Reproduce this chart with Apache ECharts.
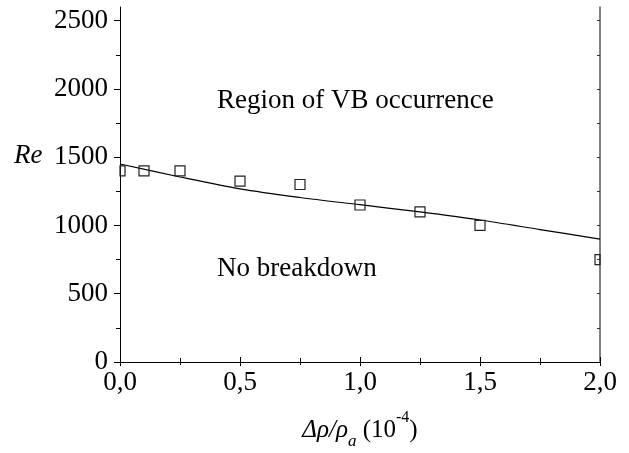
<!DOCTYPE html>
<html>
<head>
<meta charset="utf-8">
<script src="https://cdn.jsdelivr.net/npm/echarts@6/dist/echarts.min.js"></script>
<style>
  html, body { margin: 0; padding: 0; background: #fff; }
  #chart { width: 629px; height: 453px; }
</style>
</head>
<body>
<div id="chart"></div>
<script>
// measured points (squares)
const measX = [0, 0.1, 0.25, 0.5, 0.75, 1.0, 1.25, 1.5, 2.0];
const measRe = [1400, 1400, 1400, 1325, 1300, 1150, 1100, 1000, 750];

// fitted curve
const fitX = [0, 0.25, 0.5, 0.75, 1.0, 1.25, 1.5, 1.75, 2.0];
const fitRe = [1450, 1355, 1268, 1205, 1152, 1099, 1040, 970, 900];

const yMajor = [0, 500, 1000, 1500, 2000, 2500];
const yMinor = [250, 750, 1250, 1750, 2250];
const yAllTicks = [250, 500, 750, 1000, 1250, 1500, 1750, 2000, 2250, 2500];

const font = "'Liberation Serif', 'Times New Roman', serif";
const fs = 27;

const chart = echarts.init(document.getElementById('chart'));

const zip = (xs, ys) => xs.map((x, i) => [x, ys[i]]);

chart.setOption({
  animation: false,
  grid: { left: 120, right: 29, top: 7, bottom: 91, containLabel: false, outerBoundsMode: 'none' },
  xAxis: [
    {
      type: 'value',
      position: 'bottom',
      min: 0,
      max: 2,
      interval: 0.5,
      axisLine: { show: true, lineStyle: { color: '#000', width: 1 } },
      axisTick: { show: true, inside: true, length: 5, lineStyle: { color: '#000' } },
      minorTick: { show: true, splitNumber: 2, length: 4, lineStyle: { color: '#000' } },
      splitLine: { show: false },
      axisLabel: {
        color: '#000',
        fontFamily: font,
        fontSize: fs,
        margin: 7,
        formatter: v => v.toFixed(1).replace('.', ',')
      },
      name: '{i|Δρ/ρ}{sub|a}{n| (10}{sup|-4}{n|)}',
      nameLocation: 'middle',
      nameGap: 48,
      nameTextStyle: {
        color: '#000',
        fontFamily: font,
        fontSize: 25,
        rich: {
          i: { fontFamily: font, fontStyle: 'italic', fontSize: 25, color: '#000', lineHeight: 40, verticalAlign: 'middle' },
          sub: { fontFamily: font, fontStyle: 'italic', fontSize: 17, color: '#000', lineHeight: 40, verticalAlign: 'bottom' },
          n: { fontFamily: font, fontSize: 25, color: '#000', lineHeight: 40, verticalAlign: 'middle' },
          sup: { fontFamily: font, fontSize: 16, color: '#000', lineHeight: 40, verticalAlign: 'top' }
        }
      }
    },
    {
      type: 'value',
      position: 'top',
      min: 0,
      max: 2,
      interval: 0.5,
      axisLine: { show: true, lineStyle: { color: '#000', width: 1 } },
      axisTick: { show: true, inside: true, length: 4, lineStyle: { color: '#000' } },
      minorTick: { show: true, splitNumber: 2, length: 3, lineStyle: { color: '#000' } },
      splitLine: { show: false },
      axisLabel: { show: false }
    }
  ],
  yAxis: [
    {
      type: 'value',
      position: 'left',
      min: 0,
      max: 2600,
      axisLine: { show: true, lineStyle: { color: '#000', width: 1 } },
      axisTick: { show: true, inside: false, length: 6, customValues: yMajor, lineStyle: { color: '#000' } },
      splitLine: { show: false },
      axisLabel: {
        color: '#000',
        fontFamily: font,
        fontSize: fs,
        margin: 12,
        customValues: yMajor,
        formatter: v => String(v)
      }
    },
    {
      type: 'value',
      position: 'left',
      min: 0,
      max: 2600,
      axisLine: { show: false },
      axisTick: { show: true, inside: false, length: 4, customValues: yMinor, lineStyle: { color: '#000' } },
      splitLine: { show: false },
      axisLabel: { show: false }
    },
    {
      type: 'value',
      position: 'right',
      min: 0,
      max: 2600,
      axisLine: { show: true, lineStyle: { color: '#555', width: 1.5 } },
      axisTick: { show: true, inside: true, length: 3, customValues: yAllTicks, lineStyle: { color: '#333' } },
      splitLine: { show: false },
      axisLabel: { show: false }
    }
  ],
  graphic: [
    {
      type: 'text',
      left: 217,
      top: 87,
      style: { text: 'Region of VB occurrence', fill: '#000', font: fs + "px " + font }
    },
    {
      type: 'text',
      left: 217,
      top: 255,
      style: { text: 'No breakdown', fill: '#000', font: fs + "px " + font }
    },
    {
      type: 'text',
      left: 14,
      top: 142,
      style: { text: 'Re', fill: '#000', font: "italic " + fs + "px " + font }
    }
  ],
  series: [
    {
      type: 'line',
      xAxisIndex: 0,
      yAxisIndex: 0,
      data: zip(fitX, fitRe),
      smooth: 0.3,
      showSymbol: false,
      lineStyle: { color: '#000', width: 1.2 },
      z: 2
    },
    {
      type: 'custom',
      xAxisIndex: 0,
      yAxisIndex: 0,
      data: zip(measX, measRe),
      renderItem: (params, api) => {
        const p = api.coord([api.value(0), api.value(1)]);
        const s = 10;
        const cs = params.coordSys;
        const shape = echarts.graphic.clipRectByRect(
          { x: p[0] - s / 2, y: p[1] - s / 2, width: s, height: s },
          { x: cs.x, y: cs.y, width: cs.width, height: cs.height }
        );
        return shape && {
          type: 'rect',
          shape: shape,
          style: { fill: 'none', stroke: '#222', lineWidth: 1.2 }
        };
      },
      z: 3
    }
  ]
});
</script>
</body>
</html>
